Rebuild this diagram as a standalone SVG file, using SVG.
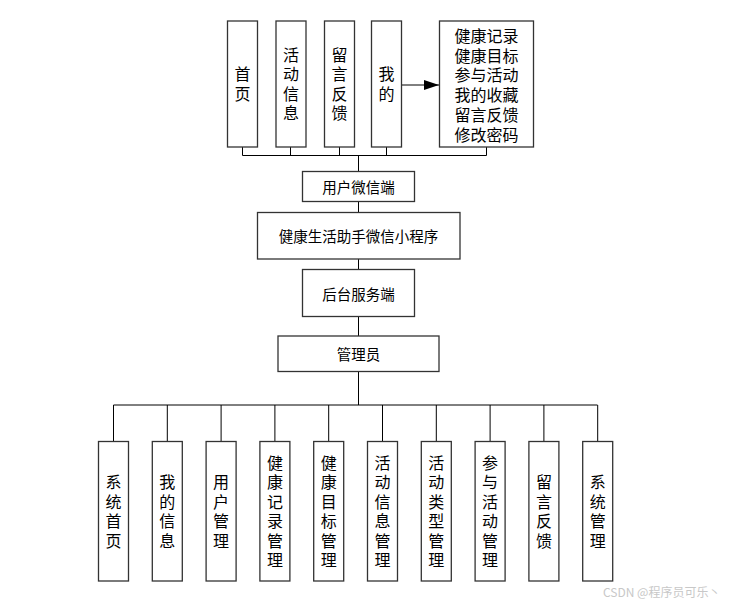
<svg xmlns="http://www.w3.org/2000/svg" width="740" height="605" viewBox="0 0 740 605">
<style>
.box{fill:#fff;stroke:#333;stroke-width:1.3}
.ln{stroke:#000;stroke-width:1;fill:none}
.t{font-family:"Noto Sans CJK SC","Microsoft YaHei",sans-serif;fill:#000;text-anchor:middle}
.h{font-size:14.5px;dominant-baseline:central}
.m{font-size:16px;dominant-baseline:central}
.v{font-size:16px;writing-mode:vertical-rl;letter-spacing:3.5px}
.wm{font-family:"Noto Sans CJK SC",sans-serif;font-size:12px;fill:#c8c8c8}
</style>
<defs>
<marker id="ah" markerWidth="15" markerHeight="10" refX="15" refY="5" orient="auto" markerUnits="userSpaceOnUse">
<path d="M0,0 L15,5 L0,10 Z" fill="#000"/>
</marker>
</defs>
<rect width="740" height="605" fill="#fff"/>
<g id="connectors">
<path class="ln" d="M242.5,147V155.5M290.5,147V155.5M339.5,147V155.5M386.5,147V155.5M486.5,147V155.5M242.5,155.5H486.5M358.5,155.5V171.5"/>
<path class="ln" d="M358.5,201.5V212.5M358.5,259V269.5M358.5,316.5V336M358.5,371.5V405"/>
<path class="ln" d="M113.5,405H597.5M113.5,405V441.5M167.3,405V441.5M221.1,405V441.5M274.9,405V441.5M328.7,405V441.5M382.5,405V441.5M436.3,405V441.5M490.1,405V441.5M543.9,405V441.5M597.7,405V441.5"/>
<path class="ln" d="M402,85H439" marker-end="url(#ah)"/>
</g>
<g id="n_shouye"><rect class="box" x="227.5" y="21" width="30" height="126"/>
<text class="t v" x="242.5" y="85.75">首页</text></g>
<g id="n_huodong"><rect class="box" x="276" y="21" width="30" height="126"/>
<text class="t v" x="291" y="85.75">活动信息</text></g>
<g id="n_liuyan"><rect class="box" x="324.5" y="21" width="30" height="126"/>
<text class="t v" x="339.5" y="85.75">留言反馈</text></g>
<g id="n_wode"><rect class="box" x="371.5" y="21" width="30" height="126"/>
<text class="t v" x="386.5" y="85.75">我的</text></g>
<g id="n_wode_list"><rect class="box" x="439.5" y="21" width="94" height="126"/>
<text class="t m"><tspan x="486.5" y="35">健康记录</tspan><tspan x="486.5" y="54.7">健康目标</tspan><tspan x="486.5" y="74.4">参与活动</tspan><tspan x="486.5" y="94.1">我的收藏</tspan><tspan x="486.5" y="113.8">留言反馈</tspan><tspan x="486.5" y="133.5">修改密码</tspan></text></g>
<g id="n_user"><rect class="box" x="302.5" y="171.5" width="112" height="30"/>
<text class="t h" x="358.5" y="186.7">用户微信端</text></g>
<g id="n_app"><rect class="box" x="257.5" y="212.5" width="202.5" height="46.5"/>
<text class="t h" x="358.5" y="235.7">健康生活助手微信小程序</text></g>
<g id="n_server"><rect class="box" x="302.5" y="269.5" width="112" height="47"/>
<text class="t h" x="358.5" y="293">后台服务端</text></g>
<g id="n_admin"><rect class="box" x="278" y="336" width="161" height="35.5"/>
<text class="t h" x="358.5" y="353.8">管理员</text></g>
<g id="b1"><rect class="box" x="98.5" y="441.5" width="30" height="139.5"/>
<text class="t v" x="113.5" y="513">系统首页</text></g>
<g id="b2"><rect class="box" x="152.3" y="441.5" width="30" height="139.5"/>
<text class="t v" x="167.3" y="513">我的信息</text></g>
<g id="b3"><rect class="box" x="206.1" y="441.5" width="30" height="139.5"/>
<text class="t v" x="221.1" y="513">用户管理</text></g>
<g id="b4"><rect class="box" x="259.9" y="441.5" width="30" height="139.5"/>
<text class="t v" x="274.9" y="513">健康记录管理</text></g>
<g id="b5"><rect class="box" x="313.7" y="441.5" width="30" height="139.5"/>
<text class="t v" x="328.7" y="513">健康目标管理</text></g>
<g id="b6"><rect class="box" x="367.5" y="441.5" width="30" height="139.5"/>
<text class="t v" x="382.5" y="513">活动信息管理</text></g>
<g id="b7"><rect class="box" x="421.3" y="441.5" width="30" height="139.5"/>
<text class="t v" x="436.3" y="513">活动类型管理</text></g>
<g id="b8"><rect class="box" x="475.1" y="441.5" width="30" height="139.5"/>
<text class="t v" x="490.1" y="513">参与活动管理</text></g>
<g id="b9"><rect class="box" x="528.9" y="441.5" width="30" height="139.5"/>
<text class="t v" x="543.9" y="513">留言反馈</text></g>
<g id="b10"><rect class="box" x="582.7" y="441.5" width="30" height="139.5"/>
<text class="t v" x="597.7" y="513">系统管理</text></g>
<text class="wm" x="603" y="597">CSDN @程序员可乐丶</text>
</svg>
